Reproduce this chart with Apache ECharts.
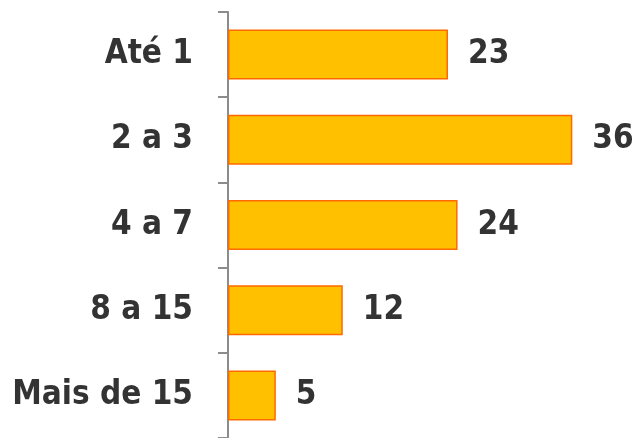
<!DOCTYPE html>
<html>
	<head>
		<meta charset="utf-8"/>
		<title>Faixas</title>
		<script src="https://cdn.jsdelivr.net/npm/echarts@6/dist/echarts.min.js"></script>
		<style>
			html, body { margin: 0; padding: 0; background: #fff; }
			#div_charts { width: 639px; height: 438px; }
		</style>
	</head>
	<body>
		<div id="div_charts"></div>
		<script>
			// dados
			var categorias = ['Até 1', '2 a 3', '4 a 7', '8 a 15', 'Mais de 15'];
			var valores = [23, 36, 24, 12, 5];

			var fonte = '"DejaVu Sans Condensed", "Liberation Sans"';
			var myChart = echarts.init(document.getElementById('div_charts'));
			var option = {
				backgroundColor: '#fff',
				animation: false,
				grid: { left: 228, top: 12, width: 382.6, height: 428.5 },
				xAxis: {
					type: 'value',
					min: 0,
					max: 40,
					show: false
				},
				yAxis: {
					type: 'category',
					data: categorias,
					inverse: true,
					axisLine: { show: true, lineStyle: { color: '#8c8c8c', width: 2 } },
					axisTick: { show: true, alignWithLabel: false, length: 10, lineStyle: { color: '#8c8c8c', width: 2 } },
					axisLabel: {
						margin: 35,
						color: '#333',
						fontFamily: fonte,
						fontWeight: 'bold',
						fontSize: 33
					}
				},
				series: [{
					type: 'bar',
					data: valores,
					barWidth: 50,
					itemStyle: { color: '#FFC000', borderColor: '#FF6A00', borderWidth: 1.5 },
					label: {
						show: true,
						position: 'right',
						distance: 20,
						color: '#333',
						fontFamily: fonte,
						fontWeight: 'bold',
						fontSize: 33
					}
				}]
			};
			myChart.setOption(option);
		</script>
	</body>
</html>
